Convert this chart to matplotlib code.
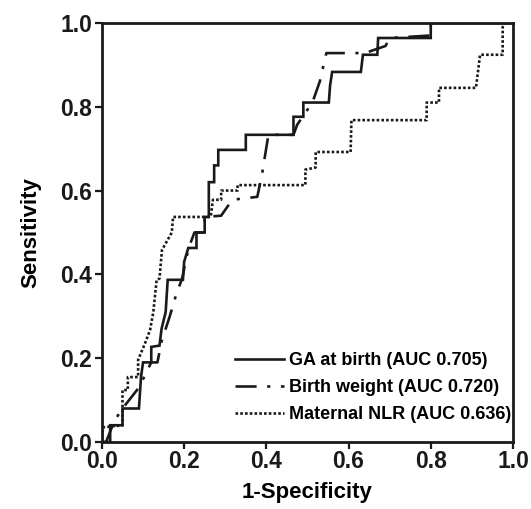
import matplotlib
matplotlib.use("Agg")
import matplotlib.pyplot as plt

plt.rcParams['font.family'] = ['Liberation Sans', 'DejaVu Sans']
plt.rcParams['font.weight'] = 'bold'

# GA at birth (solid)
ga_x = [0, 0.02, 0.02, 0.05, 0.05, 0.09, 0.095, 0.10, 0.12, 0.12, 0.14, 0.145, 0.155,
        0.16, 0.197, 0.20, 0.21, 0.23, 0.23, 0.25, 0.25, 0.26, 0.26, 0.273, 0.273,
        0.283, 0.283, 0.35, 0.35, 0.466, 0.466, 0.49, 0.49, 0.552, 0.555, 0.56,
        0.63, 0.635, 0.67, 0.672, 0.80, 0.80, 1.0]
ga_y = [0, 0, 0.04, 0.04, 0.08, 0.08, 0.155, 0.19, 0.19, 0.227, 0.23, 0.27, 0.31,
        0.387, 0.387, 0.43, 0.463, 0.463, 0.50, 0.50, 0.537, 0.537, 0.62, 0.62, 0.66,
        0.66, 0.697, 0.697, 0.733, 0.733, 0.776, 0.776, 0.81, 0.81, 0.85, 0.883,
        0.883, 0.924, 0.924, 0.964, 0.964, 1.0, 1.0]

# Birth weight (dash-dot)
bw_x = [0, 0.01, 0.03, 0.05, 0.09, 0.12, 0.135, 0.145, 0.165, 0.18, 0.195, 0.21,
        0.225, 0.25, 0.25, 0.29, 0.317, 0.378, 0.39, 0.405, 0.466, 0.475, 0.512,
        0.53, 0.546, 0.64, 0.69, 0.70, 0.80, 0.80, 1.0]
bw_y = [0, 0, 0.05, 0.08, 0.13, 0.19, 0.19, 0.24, 0.30, 0.35, 0.39, 0.46,
        0.50, 0.50, 0.537, 0.54, 0.578, 0.585, 0.642, 0.733, 0.733, 0.757, 0.81,
        0.86, 0.928, 0.928, 0.945, 0.964, 0.97, 1.0, 1.0]

# Maternal NLR (dotted)
nlr_x = [0, 0.0025, 0.05, 0.05, 0.063, 0.063, 0.088, 0.088, 0.105, 0.117, 0.125,
         0.133, 0.14, 0.146, 0.17, 0.173, 0.26, 0.265, 0.27, 0.29, 0.29, 0.31,
         0.33, 0.33, 0.495, 0.495, 0.52, 0.52, 0.605, 0.607, 0.79, 0.79, 0.82,
         0.82, 0.91, 0.92, 0.975, 0.975, 0.98, 1.0]
nlr_y = [0, 0.035, 0.04, 0.124, 0.124, 0.155, 0.155, 0.196, 0.236, 0.267, 0.31,
         0.387, 0.39, 0.458, 0.50, 0.537, 0.537, 0.54, 0.578, 0.578, 0.60, 0.60,
         0.60, 0.613, 0.613, 0.65, 0.655, 0.692, 0.692, 0.768, 0.768, 0.81, 0.81,
         0.845, 0.845, 0.924, 0.924, 0.99, 1.0, 1.0]

labels = ['GA at birth (AUC 0.705)', 'Birth weight (AUC 0.720)', 'Maternal NLR (AUC 0.636)']
ticks = [0.0, 0.2, 0.4, 0.6, 0.8, 1.0]

fig = plt.figure(figsize=(5.31, 5.09), dpi=100)
ax = fig.add_axes([0.192, 0.1316, 0.774, 0.8234])

ax.plot(ga_x, ga_y, color='#1a1a1a', lw=1.9, solid_joinstyle='miter', label=labels[0])
ax.plot(bw_x, bw_y, color='#1a1a1a', lw=1.9, dashes=(8, 4, 1.2, 4), label=labels[1])
ax.plot(nlr_x, nlr_y, color='#1a1a1a', lw=1.9, dashes=(1.0, 0.8), label=labels[2])

ax.set_xlim(0, 1)
ax.set_ylim(0, 1)
ax.set_xticks(ticks)
ax.set_yticks(ticks)
ax.set_xticklabels([f"{t:.1f}" for t in ticks], fontsize=16.5, fontweight='bold')
ax.set_yticklabels([f"{t:.1f}" for t in ticks], fontsize=16.5, fontweight='bold')
ax.tick_params(direction='out', length=5, width=1.6, pad=2, colors='#1a1a1a')
ax.tick_params(axis='x', pad=1)
for s in ax.spines.values():
    s.set_linewidth(2)
    s.set_color('#1a1a1a')

ax.set_xlabel('1-Specificity', fontsize=16, fontweight='bold', labelpad=6)
ax.set_ylabel('Sensitivity', fontsize=16, fontweight='bold', labelpad=14)

leg = ax.legend(loc='lower right', bbox_to_anchor=(0.995, 0.045), frameon=False,
                handlelength=2.7, handletextpad=0.25, labelspacing=0.55,
                borderaxespad=0, borderpad=0,
                prop={'weight': 'bold', 'size': 13})

fig.savefig('out.png', dpi=100)
